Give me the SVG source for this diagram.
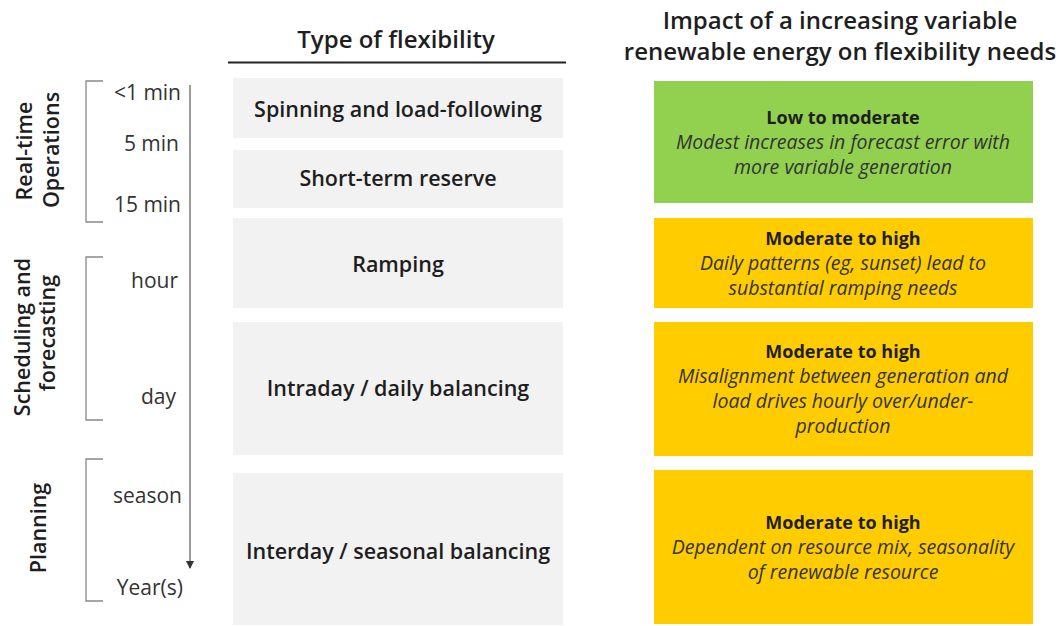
<svg xmlns="http://www.w3.org/2000/svg" width="1064" height="626" viewBox="0 0 1064 626">
<defs>
<style>
text{font-family:"Open Sans","Liberation Sans",sans-serif;fill:#1e1e1e}
.hdr{font-size:24px;font-weight:600;text-anchor:middle}
.box{fill:#f2f2f2}
.bl{font-size:21.5px;font-weight:600;text-anchor:middle}
.t{font-size:21px;text-anchor:end;fill:#333}
.side{font-size:21.5px;font-weight:600;text-anchor:middle}
.rb{font-size:18px;font-weight:700;text-anchor:middle}
.ri{font-size:19.5px;font-style:italic;text-anchor:middle;fill:#333}
.br{fill:none;stroke:#888;stroke-width:1.3}
</style>
<marker id="ah" markerWidth="8" markerHeight="8" refX="4" refY="7" orient="0" markerUnits="userSpaceOnUse">
<path d="M0,0 L8,0 L4,8 Z" fill="#333"/>
</marker>
</defs>
<rect width="1064" height="626" fill="#fff"/>
<g id="headers">
<text class="hdr" x="396" y="48">Type of flexibility</text>
<line x1="228" y1="62.5" x2="566" y2="62.5" stroke="#222" stroke-width="2"/>
<text class="hdr" x="840" y="29">Impact of a increasing variable</text>
<text class="hdr" x="840" y="60">renewable energy on flexibility needs</text>
</g>
<g id="side-labels">
<text class="side" transform="translate(32,151) rotate(-90)">Real-time</text>
<text class="side" transform="translate(59,150) rotate(-90)">Operations</text>
<text class="side" transform="translate(30,337) rotate(-90)">Scheduling and</text>
<text class="side" transform="translate(55,333) rotate(-90)">forecasting</text>
<text class="side" transform="translate(46,528) rotate(-90)">Planning</text>
</g>
<g id="connectors">
<path class="br" d="M103,81 H86 V222 H103"/>
<path class="br" d="M103,257 H86 V420 H103"/>
<path class="br" d="M103,459 H86 V601 H103"/>
<line x1="190" y1="85" x2="190" y2="568" stroke="#666" stroke-width="1.3" marker-end="url(#ah)"/>
</g>
<g id="timescale">
<text class="t" x="181" y="100">&lt;1 min</text>
<text class="t" x="179" y="151">5 min</text>
<text class="t" x="181" y="212">15 min</text>
<text class="t" x="178" y="288">hour</text>
<text class="t" x="176" y="404">day</text>
<text class="t" x="182" y="503">season</text>
<text class="t" x="183" y="595">Year(s)</text>
</g>
<g id="flex1"><rect class="box" x="233" y="78" width="330" height="60"/><text class="bl" x="398" y="117">Spinning and load-following</text></g>
<g id="flex2"><rect class="box" x="233" y="150" width="330" height="58"/><text class="bl" x="398" y="186">Short-term reserve</text></g>
<g id="flex3"><rect class="box" x="233" y="218" width="330" height="90"/><text class="bl" x="398" y="272">Ramping</text></g>
<g id="flex4"><rect class="box" x="233" y="322" width="330" height="133"/><text class="bl" x="398" y="396">Intraday / daily balancing</text></g>
<g id="flex5"><rect class="box" x="233" y="473" width="330" height="152"/><text class="bl" x="398" y="559">Interday / seasonal balancing</text></g>
<g id="impact1"><rect x="654" y="81" width="379" height="122" fill="#92d050"/>
<text class="rb" x="843" y="124">Low to moderate</text>
<text class="ri" x="843" y="149">Modest increases in forecast error with</text>
<text class="ri" x="843" y="174">more variable generation</text></g>
<g id="impact2"><rect x="654" y="218" width="379" height="90" fill="#ffcc00"/>
<text class="rb" x="843" y="245">Moderate to high</text>
<text class="ri" x="843" y="270">Daily patterns (eg, sunset) lead to</text>
<text class="ri" x="843" y="295">substantial ramping needs</text></g>
<g id="impact3"><rect x="654" y="322" width="379" height="134" fill="#ffcc00"/>
<text class="rb" x="843" y="358">Moderate to high</text>
<text class="ri" x="843" y="383">Misalignment between generation and</text>
<text class="ri" x="843" y="408">load drives hourly over/under-</text>
<text class="ri" x="843" y="433">production</text></g>
<g id="impact4"><rect x="654" y="470" width="379" height="154" fill="#ffcc00"/>
<text class="rb" x="843" y="529">Moderate to high</text>
<text class="ri" x="843" y="554">Dependent on resource mix, seasonality</text>
<text class="ri" x="843" y="579">of renewable resource</text></g>
</svg>
